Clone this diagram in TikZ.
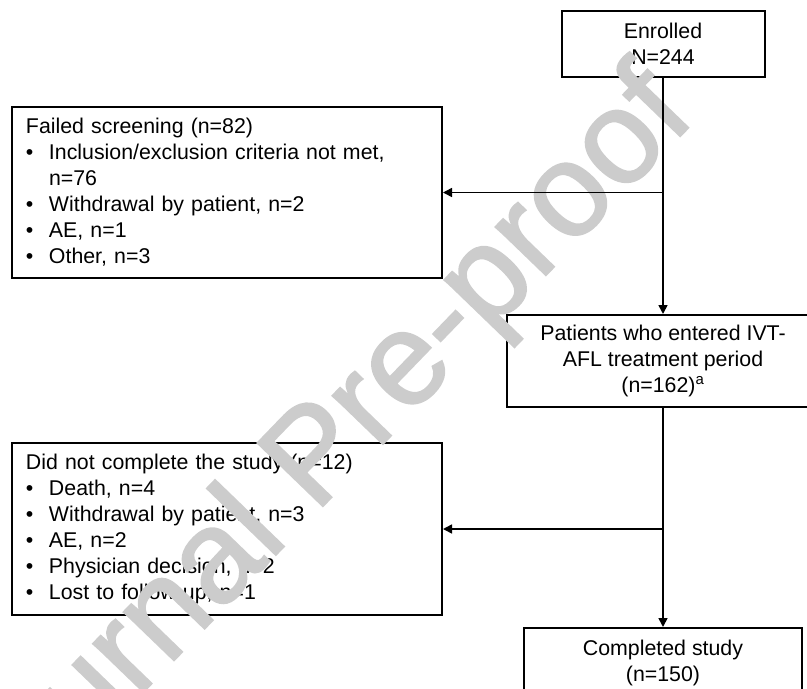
\documentclass[tikz,border=0pt]{standalone}
\usepackage{fontspec}
\setmainfont{Liberation Sans}
\newfontfamily\stampfont[FakeBold=1.5]{Liberation Sans}
\usetikzlibrary{arrows.meta}

\definecolor{stampgray}{RGB}{204,204,204}
\newcommand{\bitem}[1]{\makebox[17.25pt][l]{\textbullet}#1}

\tikzset{
  box/.style={draw,line width=1.5pt,inner sep=0pt,align=center,
    font=\fontsize{16}{19.5}\selectfont},
  listbox/.style={box,align=left,inner xsep=10.5pt,text width=301.5pt},
  link/.style={line width=1.2pt,-{Triangle[length=6.75pt,width=6.75pt]}}
}

\begin{document}
\begin{tikzpicture}[x=0.75pt,y=-0.75pt]
  \useasboundingbox (0,0) rectangle (807,689);
  \clip (0,0) rectangle (807,689);
  \node[box,minimum width=152.25pt,minimum height=49.5pt] (enrolled) at (663,44) {Enrolled\\N=244};
  \node[listbox,minimum height=128.25pt] (failed) at (227,192.5) {Failed screening (n=82)\\
    \bitem{Inclusion/exclusion criteria not met,}\\
    \hspace*{17.25pt}n=76\\
    \bitem{Withdrawal by patient, n=2}\\
    \bitem{AE, n=1}\\
    \bitem{Other, n=3}};
  \node[box,minimum width=234pt,minimum height=69pt] (patients) at (663,361) {Patients who entered IVT-\\AFL treatment period\\(n=162)\textsuperscript{a}};
  \node[listbox,minimum height=129pt] (dnc) at (227,529) {Did not complete the study (n=12)\\
    \bitem{Death, n=4}\\
    \bitem{Withdrawal by patient, n=3}\\
    \bitem{AE, n=2}\\
    \bitem{Physician decision, n=2}\\
    \bitem{Lost to follow-up, n=1}};
  \node[box,minimum width=208.5pt,minimum height=51.75pt] (completed) at (663,662.5) {Completed study\\(n=150)};
  \node[rotate=46,text=stampgray,font=\stampfont\fontsize{99}{99}\selectfont] (stamp) at (319,461) {Journal Pre-proof};
  \draw[link] (enrolled) -- (patients);
  \draw[link] (enrolled.south |- failed.east) -- (failed.east);
  \draw[link] (patients) -- (completed);
  \draw[link] (patients.south |- dnc.east) -- (dnc.east);
\end{tikzpicture}
\end{document}
